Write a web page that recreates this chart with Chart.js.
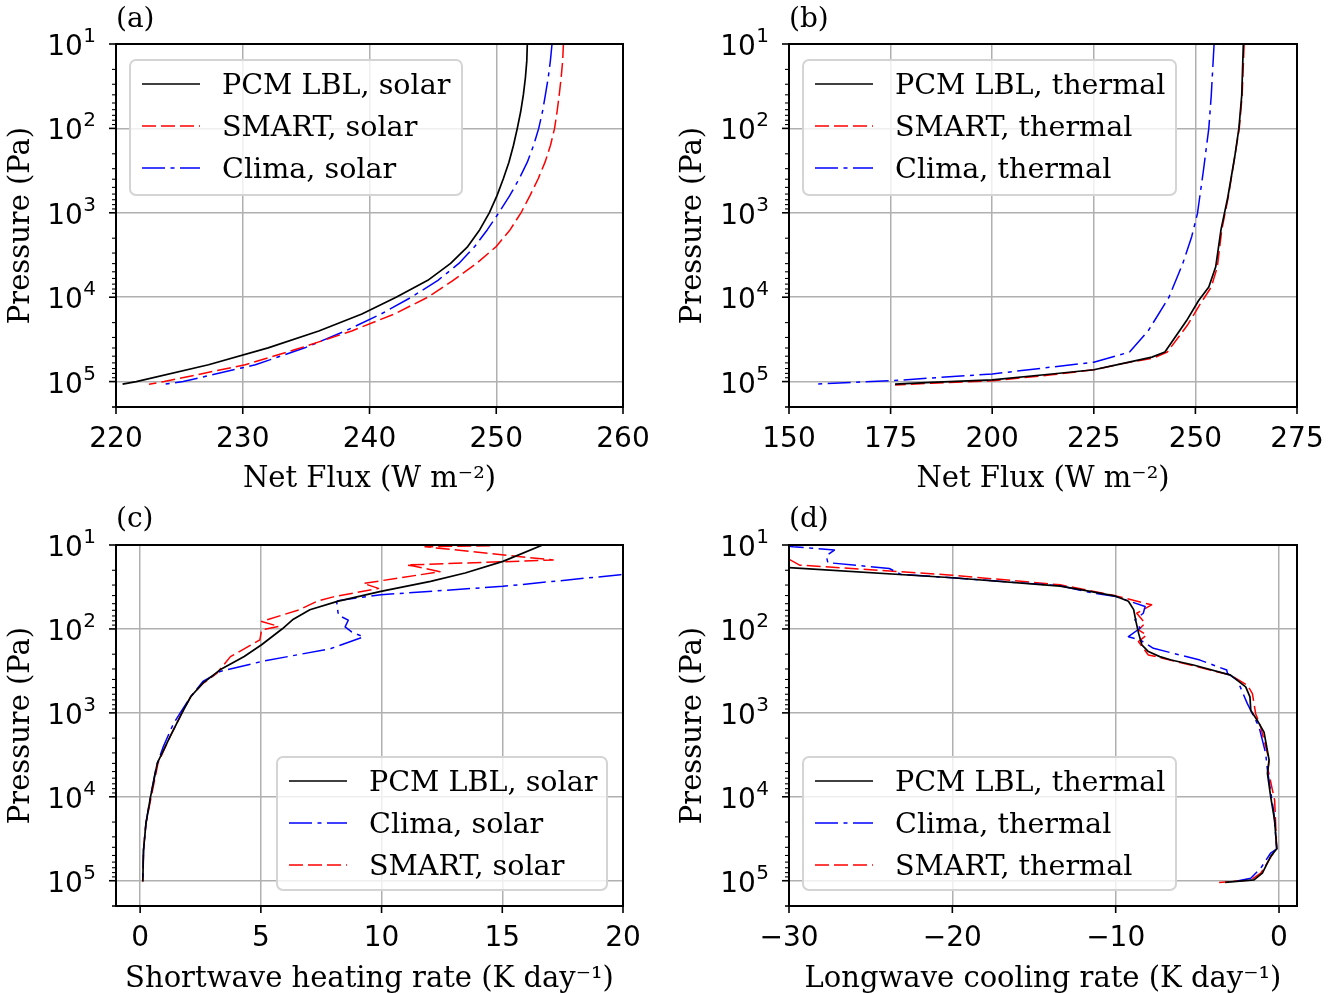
<!DOCTYPE html>
<html><head><meta charset="utf-8">
<script src="https://cdn.jsdelivr.net/npm/chart.js@4/dist/chart.umd.min.js"></script>
<style>
html,body{margin:0;padding:0;background:#fff}
body{width:1344px;height:993px;position:relative;overflow:hidden}
canvas{position:absolute}
.lbl{position:absolute;font-family:"DejaVu Serif";font-size:28px;line-height:28px;color:#000}
</style></head><body>
<canvas id="ca" width="672" height="497" style="left:0;top:0"></canvas>
<canvas id="cb" width="672" height="497" style="left:672px;top:0"></canvas>
<canvas id="cc" width="672" height="497" style="left:0;top:496px"></canvas>
<canvas id="cd" width="672" height="497" style="left:672px;top:496px"></canvas>
<div class="lbl" style="left:116px;top:4px">(a)</div>
<div class="lbl" style="left:789px;top:4px">(b)</div>
<div class="lbl" style="left:116px;top:504px">(c)</div>
<div class="lbl" style="left:789px;top:504px">(d)</div>
<script>
// ---------- tick labels ----------
const pressureTicks = [1e1, 1e2, 1e3, 1e4, 1e5];
const xTicksA = [220, 230, 240, 250, 260];
const xTicksB = [150, 175, 200, 225, 250, 275];
const xTicksC = [0, 5, 10, 15, 20];
const xTicksD = [-30, -20, -10, 0];

// ---------- (a) net solar flux ----------
const aPressure  = [10, 15.85, 25.12, 39.81, 63.1, 100, 158.5, 251.2, 398.1, 631, 1000, 1585, 2512, 3981, 6310, 10000, 15850, 25120, 39810, 63100, 100000, 107200];
const aPcmFlux   = [252.45, 252.41, 252.30, 252.14, 251.93, 251.66, 251.36, 251.0, 250.55, 250.05, 249.45, 248.7, 247.75, 246.4, 244.6, 242.1, 239.4, 236.0, 232.0, 227.3, 221.6, 220.52];
const aSmartFlux = [255.3, 255.24, 255.12, 254.97, 254.8, 254.6, 254.28, 253.85, 253.3, 252.65, 251.95, 251.1, 250.0, 248.45, 246.6, 244.6, 241.95, 238.6, 234.6, 230.2, 223.8, 222.6];
const aClimaFlux = [254.4, 254.27, 254.1, 253.88, 253.65, 253.35, 252.95, 252.45, 251.8, 251.05, 250.2, 249.3, 248.3, 247.05, 245.4, 243.3, 240.9, 238.1, 234.9, 231.0, 225.3, 223.8];

// ---------- (b) net thermal flux ----------
const bPcmFlux   = [261.8, 261.4, 260.7, 259.7, 258.0, 256.3, 255.0, 253.3, 250.8, 247.8, 242.5, 239.3, 231.7, 225.0, 214.7, 200.0, 185.0, 176.1];
const bPcmP      = [10, 40.7, 100, 213.8, 645.7, 1585, 4365, 7586, 10960, 19050, 44670, 51290, 61660, 72440, 81280, 95500, 102300, 107200];
const bSmartFlux = [262.0, 261.5, 260.8, 259.7, 258.1, 256.5, 255.4, 253.9, 251.2, 248.2, 243.1, 239.7, 231.7, 225.0, 214.7, 200.0, 185.0, 176.1];
const bSmartP    = [10, 40.7, 100, 213.8, 645.7, 1585, 4365, 7586, 12020, 20890, 44670, 52480, 61660, 72440, 83180, 97720, 104700, 109600];
const bClimaFlux = [254.6, 253.9, 253.3, 252.0, 250.5, 249.1, 246.9, 243.5, 238.5, 233.8, 225.0, 200.0, 175.0, 156.1];
const bClimaP    = [10, 40.7, 100, 309, 1023, 1905, 3981, 10000, 24550, 44670, 58880, 81280, 97720, 107200];

// ---------- (c) shortwave heating rate ----------
const cPcmRate   = [16.67, 15.03, 13.46, 12.03, 9.97, 8.17, 7.03, 6.31, 5.89, 5.03, 4.31, 3.31, 2.6, 2.1, 1.74, 1.24, 0.71, 0.43, 0.24, 0.14, 0.11];
const cPcmP      = [10, 15.67, 21.58, 27.1, 35.73, 46.99, 59.02, 77.8, 99.54, 154.5, 212.8, 306.9, 442.6, 638.3, 990.8, 1914, 3981, 10000, 20700, 43050, 102300];
const cClimaRate = [21.5, 19.89, 15.03, 9.97, 8.2, 8.14, 8.21, 8.62, 8.49, 8.76, 9.25, 7.9, 5.03, 3.31, 2.6, 2.1, 1.74, 1.39, 0.96, 0.67, 0.43, 0.24, 0.14, 0.11];
const cClimaP    = [20.3, 22.6, 31.1, 39.1, 46.0, 47.5, 68.5, 78.7, 94.6, 108.6, 124.5, 171.4, 244.3, 321.4, 422.7, 638.3, 920.4, 1327, 2523, 4365, 9954, 20700, 43050, 100000];
const cSmartRate = [14.5, 11.8, 17.11, 11.04, 11.32, 12.42, 9.25, 9.87, 8.0, 7.31, 6.6, 5.03, 5.74, 5.03, 4.96, 4.6, 3.74, 3.17, 2.6, 2.1, 1.74, 1.24, 0.74, 0.46, 0.24, 0.14, 0.11];
const cSmartP    = [10.2, 10.5, 15.1, 17.3, 17.8, 20.8, 28.7, 32.9, 41.5, 47.0, 59.0, 81.5, 93.3, 102.3, 134.9, 154.9, 213.8, 338.8, 446.7, 638.3, 990.8, 1914, 3981, 10000, 20700, 43050, 102300];

// ---------- (d) longwave cooling rate ----------
const dPcmRate   = [-32, -30, -20, -13.4, -11.9, -10, -9.22, -8.9, -8.76, -8.6, -8.4, -8.0, -7.3, -6.6, -5.24, -2.96, -2.04, -1.78, -1.73, -1.33, -0.92, -0.61, -0.71, -0.51, -0.27, -0.14, -0.51, -1.02, -1.53, -3.3];
const dPcmP      = [17.62, 18.62, 24.55, 30.9, 34.67, 40.74, 46.77, 58.88, 81.28, 112.2, 154.9, 186.2, 213.8, 234.4, 269.2, 354.8, 489.8, 645.7, 933.3, 1230, 1698, 3631, 5248, 10000, 19050, 41690, 51290, 81280, 97720, 104700];
const dClimaRate = [-30.5, -29.76, -27.22, -27.72, -27.62, -23.86, -23.15, -20, -13.4, -11.37, -10, -8.2, -8.31, -8.82, -8.51, -9.22, -8.51, -7.69, -4.84, -3.2, -3.16, -2.55, -1.94, -1.22, -0.82, -0.71, -0.31, -0.14, -0.51, -1.12, -1.73, -2.76];
const dClimaP    = [10, 10.47, 11.48, 13.49, 16.22, 19.05, 22.39, 24.55, 30.62, 37.5, 41.11, 54.08, 65.01, 77.98, 98.17, 123.6, 135.2, 170.2, 235.0, 309.0, 338.8, 407.4, 776.2, 1479, 3020, 4786, 15850, 41690, 46770, 70790, 93330, 102300];
const dSmartRate = [-31, -30, -29.35, -20, -13.4, -10, -7.8, -8.71, -8.2, -8.61, -8.1, -8.61, -8.0, -7.49, -2.96, -1.94, -1.63, -1.43, -1.12, -0.61, -0.67, -0.27, -0.14, -0.41, -1.12, -1.73, -3.67];
const dSmartP    = [11.48, 14.79, 17.38, 22.91, 29.79, 40.36, 51.64, 65.01, 85.51, 102.8, 118.0, 141.6, 204.6, 214.3, 354.8, 467.7, 588.8, 1023, 1479, 3631, 4786, 10960, 41690, 48980, 81280, 97720, 104700];

// ---------- helpers ----------
const isPow10 = v => v > 0 && Math.abs(Math.log10(v) - Math.round(Math.log10(v))) < 1e-9;
const fmtNum = v => v < 0 ? '\u2212' + Math.abs(v) : String(v);
const pts = (xs, ys) => xs.map((x, i) => ({x: x, y: ys[i]}));

const STY = {
  pcm:   {color: '#000000', dash: [], width: 1.7},
  smart: {color: '#ff0000', dash: [14, 5], width: 1.5},
  clima: {color: '#0000ff', dash: [23, 5.5, 4, 5.5], width: 1.5}
};
const ds = (label, kind, xs, ys) => ({
  label, data: pts(xs, ys), showLine: true, pointRadius: 0, tension: 0,
  borderColor: STY[kind].color, borderWidth: STY[kind].width, borderDash: STY[kind].dash,
  fill: false
});

const GRID = '#b0b0b0';
const TICKFONT = {family: 'DejaVu Sans', size: 28};
const YTITLEFONT = {family: 'DejaVu Serif', size: 29};
const XTITLEFONT = {family: 'DejaVu Serif', size: 29, lineHeight: 0.95};

const framePlugin = {
  id: 'frame',
  afterDatasetsDraw(chart, args, opts) {
    const ctx = chart.ctx;
    const {left, top, right, bottom} = chart.chartArea;
    const xs = chart.scales.x, ys = chart.scales.y;
    ctx.save();
    ctx.strokeStyle = '#000';
    ys.ticks.forEach(t => {
      const y = ys.getPixelForValue(t.value);
      if (y < top - 0.5 || y > bottom + 0.5) return;
      const major = isPow10(t.value);
      ctx.lineWidth = major ? 1.6 : 1.1;
      ctx.beginPath(); ctx.moveTo(left - (major ? 7 : 4), y); ctx.lineTo(left, y); ctx.stroke();
    });
    xs.ticks.forEach(t => {
      const x = xs.getPixelForValue(t.value);
      ctx.lineWidth = 1.6;
      ctx.beginPath(); ctx.moveTo(x, bottom); ctx.lineTo(x, bottom + 7); ctx.stroke();
    });
    ctx.lineWidth = 2;
    ctx.strokeRect(left, top, right - left, bottom - top);
    ctx.fillStyle = '#000';
    ctx.textAlign = 'right';
    ctx.textBaseline = 'alphabetic';
    pressureTicks.forEach(v => {
      const y = ys.getPixelForValue(v);
      const e = String(Math.round(Math.log10(v)));
      ctx.font = '20px "DejaVu Sans"';
      const ew = ctx.measureText(e).width;
      const xr = left - 20;
      ctx.fillText(e, xr, y - 2);
      ctx.font = '28px "DejaVu Sans"';
      ctx.fillText('10', xr - ew - 0.5, y + 11);
    });
    const L = opts.legend;
    if (L) {
      ctx.fillStyle = 'rgba(255,255,255,0.8)';
      ctx.strokeStyle = '#d4d4d4';
      ctx.lineWidth = 2;
      ctx.beginPath();
      ctx.roundRect(L.x, L.y, L.w, L.h, 6);
      ctx.fill(); ctx.stroke();
      ctx.font = '28.6px "DejaVu Serif"';
      ctx.textBaseline = 'middle';
      ctx.textAlign = 'left';
      chart.data.datasets.forEach((d, i) => {
        const cy = L.y + 24 + i * 42;
        ctx.strokeStyle = d.borderColor;
        ctx.lineWidth = d.borderWidth;
        ctx.setLineDash(d.borderDash);
        ctx.beginPath(); ctx.moveTo(L.x + 12, cy); ctx.lineTo(L.x + 70, cy); ctx.stroke();
        ctx.setLineDash([]);
        ctx.fillStyle = '#000';
        ctx.fillText(d.label, L.x + 92, cy + 3);
      });
    }
    ctx.restore();
  }
};

function makeChart(id, cfg) {
  const yAxis = {
    type: 'logarithmic', reverse: true, min: 10, max: 2e5,
    afterBuildTicks: s => {
      const arr = [];
      for (let e = 1; e <= 5; e++) for (let m = 1; m <= 9; m++) { const v = m * Math.pow(10, e); if (v <= 2e5) arr.push({value: v}); }
      arr.push({value: 2e5});
      s.ticks = arr;
    },
    afterFit: s => { s.width = cfg.yWidth; },
    ticks: {autoSkip: false, padding: 19, color: '#000', font: TICKFONT, callback: () => ''},
    grid: {drawTicks: false, color: c => (c.tick && isPow10(c.tick.value)) ? GRID : 'rgba(0,0,0,0)', lineWidth: 1.5},
    border: {display: false},
    title: {display: true, text: 'Pressure (Pa)', color: '#000', font: YTITLEFONT, padding: {top: 4, bottom: 0}}
  };
  const xAxis = {
    type: 'linear', min: cfg.xmin, max: cfg.xmax,
    afterBuildTicks: s => { s.ticks = cfg.xticks.map(v => ({value: v})); },
    afterFit: s => { s.height = cfg.xHeight; },
    ticks: {autoSkip: false, padding: 16, color: '#000', font: TICKFONT, maxRotation: 0, callback: v => fmtNum(v)},
    grid: {drawTicks: false, color: GRID, lineWidth: 1.5},
    border: {display: false},
    title: {display: true, text: cfg.xtitle, color: '#000', font: XTITLEFONT, padding: {top: 0, bottom: cfg.titlePad}}
  };
  return new Chart(document.getElementById(id), {
    type: 'scatter',
    data: {datasets: cfg.datasets},
    options: {
      responsive: false, animation: false, devicePixelRatio: 1,
      layout: {padding: cfg.padding},
      scales: {x: xAxis, y: yAxis},
      plugins: {legend: {display: false}, tooltip: {enabled: false}, frame: {legend: cfg.legend}},
      elements: {line: {borderCapStyle: 'butt', borderJoinStyle: 'round'}}
    },
    plugins: [framePlugin]
  });
}

makeChart('ca', {
  yWidth: 116, xHeight: 90, padding: {left: 0, top: 44, right: 49, bottom: 0},
  xmin: 220, xmax: 260, xticks: xTicksA, xtitle: 'Net Flux (W m\u207b\u00b2)', titlePad: 4,
  legend: {x: 130, y: 60, w: 332, h: 135},
  datasets: [
    ds('PCM LBL, solar', 'pcm', aPcmFlux, aPressure),
    ds('SMART, solar', 'smart', aSmartFlux, aPressure),
    ds('Clima, solar', 'clima', aClimaFlux, aPressure)
  ]
});
makeChart('cb', {
  yWidth: 117, xHeight: 90, padding: {left: 0, top: 44, right: 47, bottom: 0},
  xmin: 150, xmax: 275, xticks: xTicksB, xtitle: 'Net Flux (W m\u207b\u00b2)', titlePad: 4,
  legend: {x: 131, y: 60, w: 373, h: 135},
  datasets: [
    ds('PCM LBL, thermal', 'pcm', bPcmFlux, bPcmP),
    ds('SMART, thermal', 'smart', bSmartFlux, bSmartP),
    ds('Clima, thermal', 'clima', bClimaFlux, bClimaP)
  ]
});
makeChart('cc', {
  yWidth: 116, xHeight: 87, padding: {left: 0, top: 49, right: 49, bottom: 0},
  xmin: -1, xmax: 20, xticks: xTicksC, xtitle: 'Shortwave heating rate (K day\u207b\u00b9)', titlePad: 0,
  legend: {x: 277, y: 261, w: 330, h: 133},
  datasets: [
    ds('PCM LBL, solar', 'pcm', cPcmRate, cPcmP),
    ds('Clima, solar', 'clima', cClimaRate, cClimaP),
    ds('SMART, solar', 'smart', cSmartRate, cSmartP)
  ]
});
makeChart('cd', {
  yWidth: 117, xHeight: 87, padding: {left: 0, top: 49, right: 47, bottom: 0},
  xmin: -30, xmax: 1.1, xticks: xTicksD, xtitle: 'Longwave cooling rate (K day\u207b\u00b9)', titlePad: 0,
  legend: {x: 131, y: 261, w: 373, h: 133},
  datasets: [
    ds('PCM LBL, thermal', 'pcm', dPcmRate, dPcmP),
    ds('Clima, thermal', 'clima', dClimaRate, dClimaP),
    ds('SMART, thermal', 'smart', dSmartRate, dSmartP)
  ]
});
</script>
</body></html>
